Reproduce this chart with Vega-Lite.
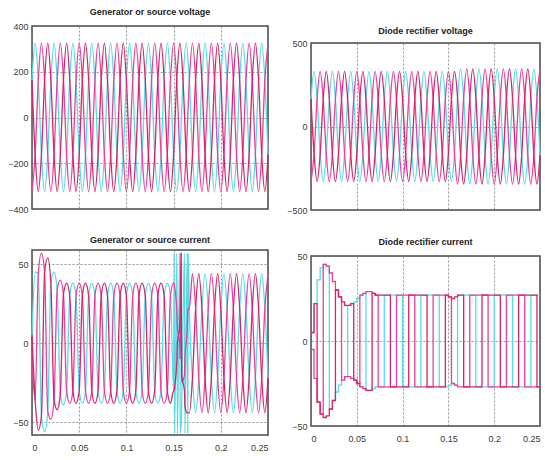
{
"$schema": "https://vega.github.io/schema/vega-lite/v6.json",
"background": "white",
"padding": {"left": 6, "top": 7, "right": 0, "bottom": 0},
"config": {
  "view": {"stroke": "#4a4a4a", "strokeWidth": 1.5},
  "axis": {"grid": true, "gridColor": "#6a6a6a", "gridDash": [2,2], "gridWidth": 0.7, "ticks": false, "domain": false, "labelFont": "Liberation Sans", "labelFontSize": 9, "labelColor": "#3a3a3a", "labelPadding": 4},
  "title": {"font": "Liberation Sans Narrow, Liberation Sans", "fontSize": 9, "fontWeight": "bold", "color": "#222", "offset": 5},
  "line": {"strokeWidth": 1.3, "interpolate": "monotone", "clip": true}
},
"datasets": {
"v1": [
{"t":0,"a":163,"b":-325,"c":163},{"t":0.00333,"a":325,"b":-163,"c":-163},{"t":0.00667,"a":163,"b":163,"c":-325},{"t":0.01,"a":-163,"b":325,"c":-163},{"t":0.01333,"a":-325,"b":163,"c":163},{"t":0.01667,"a":-163,"b":-163,"c":325},
{"t":0.02,"a":163,"b":-325,"c":163},{"t":0.02333,"a":325,"b":-163,"c":-163},{"t":0.02667,"a":163,"b":163,"c":-325},{"t":0.03,"a":-163,"b":325,"c":-163},{"t":0.03333,"a":-325,"b":163,"c":163},{"t":0.03667,"a":-163,"b":-163,"c":325},
{"t":0.04,"a":163,"b":-325,"c":163},{"t":0.04333,"a":325,"b":-163,"c":-163},{"t":0.04667,"a":163,"b":163,"c":-325},{"t":0.05,"a":-163,"b":325,"c":-163},{"t":0.05333,"a":-325,"b":163,"c":163},{"t":0.05667,"a":-163,"b":-163,"c":325},
{"t":0.06,"a":163,"b":-325,"c":163},{"t":0.06333,"a":325,"b":-163,"c":-163},{"t":0.06667,"a":163,"b":163,"c":-325},{"t":0.07,"a":-163,"b":325,"c":-163},{"t":0.07333,"a":-325,"b":163,"c":163},{"t":0.07667,"a":-163,"b":-163,"c":325},
{"t":0.08,"a":163,"b":-325,"c":163},{"t":0.08333,"a":325,"b":-163,"c":-163},{"t":0.08667,"a":163,"b":163,"c":-325},{"t":0.09,"a":-163,"b":325,"c":-163},{"t":0.09333,"a":-325,"b":163,"c":163},{"t":0.09667,"a":-163,"b":-163,"c":325},
{"t":0.1,"a":163,"b":-325,"c":163},{"t":0.10333,"a":325,"b":-163,"c":-163},{"t":0.10667,"a":163,"b":163,"c":-325},{"t":0.11,"a":-163,"b":325,"c":-163},{"t":0.11333,"a":-325,"b":163,"c":163},{"t":0.11667,"a":-163,"b":-163,"c":325},
{"t":0.12,"a":163,"b":-325,"c":163},{"t":0.12333,"a":325,"b":-163,"c":-163},{"t":0.12667,"a":163,"b":163,"c":-325},{"t":0.13,"a":-163,"b":325,"c":-163},{"t":0.13333,"a":-325,"b":163,"c":163},{"t":0.13667,"a":-163,"b":-163,"c":325},
{"t":0.14,"a":163,"b":-325,"c":163},{"t":0.14333,"a":325,"b":-163,"c":-163},{"t":0.14667,"a":163,"b":163,"c":-325},{"t":0.15,"a":-163,"b":325,"c":-163},{"t":0.15333,"a":-325,"b":163,"c":163},{"t":0.15667,"a":-163,"b":-163,"c":325},
{"t":0.16,"a":163,"b":-325,"c":163},{"t":0.16333,"a":325,"b":-163,"c":-163},{"t":0.16667,"a":163,"b":163,"c":-325},{"t":0.17,"a":-163,"b":325,"c":-163},{"t":0.17333,"a":-325,"b":163,"c":163},{"t":0.17667,"a":-163,"b":-163,"c":325},
{"t":0.18,"a":163,"b":-325,"c":163},{"t":0.18333,"a":325,"b":-163,"c":-163},{"t":0.18667,"a":163,"b":163,"c":-325},{"t":0.19,"a":-163,"b":325,"c":-163},{"t":0.19333,"a":-325,"b":163,"c":163},{"t":0.19667,"a":-163,"b":-163,"c":325},
{"t":0.2,"a":163,"b":-325,"c":163},{"t":0.20333,"a":325,"b":-163,"c":-163},{"t":0.20667,"a":163,"b":163,"c":-325},{"t":0.21,"a":-163,"b":325,"c":-163},{"t":0.21333,"a":-325,"b":163,"c":163},{"t":0.21667,"a":-163,"b":-163,"c":325},
{"t":0.22,"a":163,"b":-325,"c":163},{"t":0.22333,"a":325,"b":-163,"c":-163},{"t":0.22667,"a":163,"b":163,"c":-325},{"t":0.23,"a":-163,"b":325,"c":-163},{"t":0.23333,"a":-325,"b":163,"c":163},{"t":0.23667,"a":-163,"b":-163,"c":325},
{"t":0.24,"a":163,"b":-325,"c":163},{"t":0.24333,"a":325,"b":-163,"c":-163},{"t":0.24667,"a":163,"b":163,"c":-325},{"t":0.25,"a":-163,"b":325,"c":-163}
],
"v2": [
{"t":0,"a":165,"b":-330,"c":165},{"t":0.00333,"a":330,"b":-165,"c":-165},{"t":0.00667,"a":165,"b":165,"c":-330},{"t":0.01,"a":-165,"b":330,"c":-165},{"t":0.01333,"a":-330,"b":165,"c":165},{"t":0.01667,"a":-165,"b":-165,"c":330},
{"t":0.02,"a":165,"b":-330,"c":165},{"t":0.02333,"a":330,"b":-165,"c":-165},{"t":0.02667,"a":165,"b":165,"c":-330},{"t":0.03,"a":-165,"b":330,"c":-165},{"t":0.03333,"a":-330,"b":165,"c":165},{"t":0.03667,"a":-165,"b":-165,"c":330},
{"t":0.04,"a":165,"b":-330,"c":165},{"t":0.04333,"a":330,"b":-165,"c":-165},{"t":0.04667,"a":165,"b":165,"c":-330},{"t":0.05,"a":-165,"b":330,"c":-165},{"t":0.05333,"a":-330,"b":165,"c":165},{"t":0.05667,"a":-165,"b":-165,"c":330},
{"t":0.06,"a":165,"b":-330,"c":165},{"t":0.06333,"a":330,"b":-165,"c":-165},{"t":0.06667,"a":165,"b":165,"c":-330},{"t":0.07,"a":-165,"b":330,"c":-165},{"t":0.07333,"a":-330,"b":165,"c":165},{"t":0.07667,"a":-165,"b":-165,"c":330},
{"t":0.08,"a":165,"b":-330,"c":165},{"t":0.08333,"a":330,"b":-165,"c":-165},{"t":0.08667,"a":165,"b":165,"c":-330},{"t":0.09,"a":-165,"b":330,"c":-165},{"t":0.09333,"a":-330,"b":165,"c":165},{"t":0.09667,"a":-165,"b":-165,"c":330},
{"t":0.1,"a":165,"b":-330,"c":165},{"t":0.10333,"a":330,"b":-165,"c":-165},{"t":0.10667,"a":165,"b":165,"c":-330},{"t":0.11,"a":-165,"b":330,"c":-165},{"t":0.11333,"a":-330,"b":165,"c":165},{"t":0.11667,"a":-165,"b":-165,"c":330},
{"t":0.12,"a":165,"b":-330,"c":165},{"t":0.12333,"a":330,"b":-165,"c":-165},{"t":0.12667,"a":165,"b":165,"c":-330},{"t":0.13,"a":-165,"b":330,"c":-165},{"t":0.13333,"a":-330,"b":165,"c":165},{"t":0.13667,"a":-165,"b":-165,"c":330},
{"t":0.14,"a":165,"b":-330,"c":165},{"t":0.14333,"a":330,"b":-165,"c":-165},{"t":0.14667,"a":165,"b":165,"c":-330},{"t":0.15,"a":-165,"b":330,"c":-165},{"t":0.15333,"a":-330,"b":165,"c":165},{"t":0.15667,"a":-165,"b":-165,"c":330},
{"t":0.16,"a":173,"b":-345,"c":173},{"t":0.16333,"a":345,"b":-173,"c":-173},{"t":0.16667,"a":173,"b":173,"c":-345},{"t":0.17,"a":-173,"b":345,"c":-173},{"t":0.17333,"a":-345,"b":173,"c":173},{"t":0.17667,"a":-173,"b":-173,"c":345},
{"t":0.18,"a":173,"b":-345,"c":173},{"t":0.18333,"a":345,"b":-173,"c":-173},{"t":0.18667,"a":173,"b":173,"c":-345},{"t":0.19,"a":-173,"b":345,"c":-173},{"t":0.19333,"a":-345,"b":173,"c":173},{"t":0.19667,"a":-173,"b":-173,"c":345},
{"t":0.2,"a":173,"b":-345,"c":173},{"t":0.20333,"a":345,"b":-173,"c":-173},{"t":0.20667,"a":173,"b":173,"c":-345},{"t":0.21,"a":-173,"b":345,"c":-173},{"t":0.21333,"a":-345,"b":173,"c":173},{"t":0.21667,"a":-173,"b":-173,"c":345},
{"t":0.22,"a":173,"b":-345,"c":173},{"t":0.22333,"a":345,"b":-173,"c":-173},{"t":0.22667,"a":173,"b":173,"c":-345},{"t":0.23,"a":-173,"b":345,"c":-173},{"t":0.23333,"a":-345,"b":173,"c":173},{"t":0.23667,"a":-173,"b":-173,"c":345},
{"t":0.24,"a":173,"b":-345,"c":173},{"t":0.24333,"a":345,"b":-173,"c":-173},{"t":0.24667,"a":173,"b":173,"c":-345},{"t":0.25,"a":-173,"b":345,"c":-173}
],
"c1": [
{"t":0,"a":5,"b":-10,"c":5},{"t":0.00333,"a":45,"b":-36,"c":-36},{"t":0.00667,"a":44,"b":44,"c":-55},{"t":0.01,"a":-46,"b":57,"c":-46},{"t":0.01333,"a":-56,"b":45,"c":45},{"t":0.01667,"a":-43,"b":-43,"c":54},
{"t":0.02,"a":38,"b":-48,"c":38},{"t":0.02333,"a":45,"b":-36,"c":-36},{"t":0.02667,"a":34,"b":34,"c":-42},{"t":0.03,"a":-32,"b":40,"c":-32},{"t":0.03333,"a":-39,"b":31,"c":31},{"t":0.03667,"a":-30,"b":-30,"c":38},
{"t":0.04,"a":30,"b":-38,"c":30},{"t":0.04333,"a":38,"b":-30,"c":-30},{"t":0.04667,"a":30,"b":30,"c":-38},{"t":0.05,"a":-30,"b":38,"c":-30},{"t":0.05333,"a":-38,"b":30,"c":30},{"t":0.05667,"a":-30,"b":-30,"c":38},
{"t":0.06,"a":30,"b":-38,"c":30},{"t":0.06333,"a":38,"b":-30,"c":-30},{"t":0.06667,"a":30,"b":30,"c":-38},{"t":0.07,"a":-30,"b":38,"c":-30},{"t":0.07333,"a":-38,"b":30,"c":30},{"t":0.07667,"a":-30,"b":-30,"c":38},
{"t":0.08,"a":30,"b":-38,"c":30},{"t":0.08333,"a":38,"b":-30,"c":-30},{"t":0.08667,"a":30,"b":30,"c":-38},{"t":0.09,"a":-30,"b":38,"c":-30},{"t":0.09333,"a":-38,"b":30,"c":30},{"t":0.09667,"a":-30,"b":-30,"c":38},
{"t":0.1,"a":30,"b":-38,"c":30},{"t":0.10333,"a":38,"b":-30,"c":-30},{"t":0.10667,"a":30,"b":30,"c":-38},{"t":0.11,"a":-30,"b":38,"c":-30},{"t":0.11333,"a":-38,"b":30,"c":30},{"t":0.11667,"a":-30,"b":-30,"c":38},
{"t":0.12,"a":30,"b":-38,"c":30},{"t":0.12333,"a":38,"b":-30,"c":-30},{"t":0.12667,"a":30,"b":30,"c":-38},{"t":0.13,"a":-30,"b":38,"c":-30},{"t":0.13333,"a":-38,"b":30,"c":30},{"t":0.13667,"a":-30,"b":-30,"c":38},
{"t":0.14,"a":30,"b":-38,"c":30},{"t":0.14333,"a":38,"b":-30,"c":-30},{"t":0.14667,"a":30,"b":30,"c":-38},{"t":0.15,"a":-30,"b":38,"c":-30},
{"t":0.1505,"a":57,"b":38,"c":-30},{"t":0.151,"a":-57,"b":36,"c":-28},{"t":0.1535,"a":57,"b":20,"c":-10},{"t":0.154,"a":-57,"b":10,"c":0},{"t":0.1565,"a":57,"b":0,"c":10},{"t":0.157,"a":-57,"b":-10,"c":20},{"t":0.158,"a":-50,"b":57,"c":57},{"t":0.1585,"a":-40,"b":-25,"c":-20},{"t":0.1615,"a":57,"b":-20,"c":-30},{"t":0.162,"a":-57,"b":-10,"c":-40},{"t":0.1645,"a":57,"b":10,"c":-44},{"t":0.165,"a":-57,"b":20,"c":-44},{"t":0.1655,"a":57,"b":22,"c":-44},
{"t":0.16667,"a":22,"b":22,"c":-44},{"t":0.17,"a":-22,"b":44,"c":-22},{"t":0.17333,"a":-44,"b":22,"c":22},{"t":0.17667,"a":-22,"b":-22,"c":44},
{"t":0.18,"a":22,"b":-44,"c":22},{"t":0.18333,"a":44,"b":-22,"c":-22},{"t":0.18667,"a":22,"b":22,"c":-44},{"t":0.19,"a":-22,"b":44,"c":-22},{"t":0.19333,"a":-44,"b":22,"c":22},{"t":0.19667,"a":-22,"b":-22,"c":44},
{"t":0.2,"a":22,"b":-44,"c":22},{"t":0.20333,"a":44,"b":-22,"c":-22},{"t":0.20667,"a":22,"b":22,"c":-44},{"t":0.21,"a":-22,"b":44,"c":-22},{"t":0.21333,"a":-44,"b":22,"c":22},{"t":0.21667,"a":-22,"b":-22,"c":44},
{"t":0.22,"a":22,"b":-44,"c":22},{"t":0.22333,"a":44,"b":-22,"c":-22},{"t":0.22667,"a":22,"b":22,"c":-44},{"t":0.23,"a":-22,"b":44,"c":-22},{"t":0.23333,"a":-44,"b":22,"c":22},{"t":0.23667,"a":-22,"b":-22,"c":44},
{"t":0.24,"a":22,"b":-44,"c":22},{"t":0.24333,"a":44,"b":-22,"c":-22},{"t":0.24667,"a":22,"b":22,"c":-44},{"t":0.25,"a":-22,"b":44,"c":-22}
],
"c2": [
{"t":0,"a":5,"b":-5,"c":5},{"t":0.00333,"a":22,"b":-22,"c":22},{"t":0.00667,"a":36,"b":-36,"c":-36},{"t":0.01,"a":43,"b":-43,"c":-43},{"t":0.01333,"a":45,"b":45,"c":-45},{"t":0.01667,"a":44,"b":44,"c":-44},
{"t":0.02,"a":-40,"b":40,"c":-40},{"t":0.02333,"a":-35,"b":35,"c":-35},{"t":0.02667,"a":-30,"b":30,"c":30},{"t":0.03,"a":-26,"b":26,"c":26},{"t":0.03333,"a":-23,"b":-23,"c":23},{"t":0.03667,"a":-21,"b":-21,"c":21},
{"t":0.04,"a":21,"b":-21,"c":21},{"t":0.04333,"a":22,"b":-22,"c":22},{"t":0.04667,"a":23,"b":-23,"c":-23},{"t":0.05,"a":25,"b":-25,"c":-25},{"t":0.05333,"a":27,"b":27,"c":-27},{"t":0.05667,"a":28,"b":28,"c":-28},
{"t":0.06,"a":-29,"b":29,"c":-29},{"t":0.06333,"a":-29,"b":29,"c":-29},{"t":0.06667,"a":-28,"b":28,"c":28},{"t":0.07,"a":-27,"b":27,"c":27},{"t":0.07333,"a":-27,"b":-27,"c":27},{"t":0.07667,"a":-27,"b":-27,"c":27},
{"t":0.08,"a":27,"b":-27,"c":27},{"t":0.08333,"a":27,"b":-27,"c":27},{"t":0.08667,"a":27,"b":-27,"c":-27},{"t":0.09,"a":27,"b":-27,"c":-27},{"t":0.09333,"a":27,"b":27,"c":-27},{"t":0.09667,"a":27,"b":27,"c":-27},
{"t":0.1,"a":-27,"b":27,"c":-27},{"t":0.10333,"a":-27,"b":27,"c":-27},{"t":0.10667,"a":-27,"b":27,"c":27},{"t":0.11,"a":-27,"b":27,"c":27},{"t":0.11333,"a":-27,"b":-27,"c":27},{"t":0.11667,"a":-27,"b":-27,"c":27},
{"t":0.12,"a":27,"b":-27,"c":27},{"t":0.12333,"a":27,"b":-27,"c":27},{"t":0.12667,"a":27,"b":-27,"c":-27},{"t":0.13,"a":27,"b":-27,"c":-27},{"t":0.13333,"a":27,"b":27,"c":-27},{"t":0.13667,"a":27,"b":27,"c":-27},
{"t":0.14,"a":-27,"b":27,"c":-27},{"t":0.14333,"a":-27,"b":27,"c":-27},{"t":0.14667,"a":-27,"b":27,"c":27},{"t":0.15,"a":-26,"b":26,"c":26},{"t":0.15333,"a":-25,"b":-25,"c":25},{"t":0.15667,"a":-26,"b":-26,"c":26},
{"t":0.16,"a":27,"b":-27,"c":27},{"t":0.16333,"a":27,"b":-27,"c":27},{"t":0.16667,"a":27,"b":-27,"c":-27},{"t":0.17,"a":27,"b":-27,"c":-27},{"t":0.17333,"a":27,"b":27,"c":-27},{"t":0.17667,"a":27,"b":27,"c":-27},
{"t":0.18,"a":-27,"b":27,"c":-27},{"t":0.18333,"a":-27,"b":27,"c":-27},{"t":0.18667,"a":-27,"b":27,"c":27},{"t":0.19,"a":-27,"b":27,"c":27},{"t":0.19333,"a":-27,"b":-27,"c":27},{"t":0.19667,"a":-27,"b":-27,"c":27},
{"t":0.2,"a":27,"b":-27,"c":27},{"t":0.20333,"a":27,"b":-27,"c":27},{"t":0.20667,"a":27,"b":-27,"c":-27},{"t":0.21,"a":27,"b":-27,"c":-27},{"t":0.21333,"a":27,"b":27,"c":-27},{"t":0.21667,"a":27,"b":27,"c":-27},
{"t":0.22,"a":-27,"b":27,"c":-27},{"t":0.22333,"a":-27,"b":27,"c":-27},{"t":0.22667,"a":-27,"b":27,"c":27},{"t":0.23,"a":-27,"b":27,"c":27},{"t":0.23333,"a":-27,"b":-27,"c":27},{"t":0.23667,"a":-27,"b":-27,"c":27},
{"t":0.24,"a":27,"b":-27,"c":27},{"t":0.24333,"a":27,"b":-27,"c":27},{"t":0.24667,"a":27,"b":-27,"c":-27},{"t":0.25,"a":27,"b":-27,"c":-27}
]
},
"spacing": 13,
"hconcat": [
 {"spacing": 20, "vconcat": [
  {"width": 236, "height": 183, "title": "Generator or source voltage",
   "data": {"name": "v1"},
   "transform": [{"fold": ["a","b","c"], "as": ["ph","v"]}],
   "mark": {"type": "line"},
   "encoding": {
    "x": {"field": "t", "type": "quantitative", "scale": {"domain": [0,0.25], "nice": false}, "axis": {"title": null, "values": [0,0.05,0.1,0.15,0.2,0.25], "labels": false}},
    "y": {"field": "v", "type": "quantitative", "scale": {"domain": [-400,400], "nice": false}, "axis": {"title": null, "values": [-400,-200,0,200,400]}},
    "color": {"field": "ph", "type": "nominal", "scale": {"domain": ["a","b","c"], "range": ["#55dde3","#e8409e","#d6246a"]}, "legend": null}
   }},
  {"width": 236, "height": 185, "title": "Generator or source current",
   "data": {"name": "c1"},
   "transform": [{"fold": ["a","b","c"], "as": ["ph","v"]}],
   "mark": {"type": "line"},
   "encoding": {
    "x": {"field": "t", "type": "quantitative", "scale": {"domain": [0,0.25], "nice": false}, "axis": {"title": null, "values": [0,0.05,0.1,0.15,0.2,0.25], "format": "~g", "labelPadding": 8}},
    "y": {"field": "v", "type": "quantitative", "scale": {"domain": [-58,59], "nice": false}, "axis": {"title": null, "values": [-50,0,50]}},
    "color": {"field": "ph", "type": "nominal", "scale": {"domain": ["a","b","c"], "range": ["#55dde3","#e8409e","#d6246a"]}, "legend": null}
   }}
 ]},
 {"spacing": -6, "vconcat": [
  {"width": 229, "height": 1, "view": {"stroke": null}, "data": {"values": [{"t": 0}]}, "mark": {"type": "text", "text": ""}, "encoding": {}},
  {"spacing": 21, "vconcat": [
  {"width": 229, "height": 167, "title": {"text": "Diode rectifier voltage", "offset": 3},
   "data": {"name": "v2"},
   "transform": [{"fold": ["a","b","c"], "as": ["ph","v"]}],
   "mark": {"type": "line"},
   "encoding": {
    "x": {"field": "t", "type": "quantitative", "scale": {"domain": [0,0.25], "nice": false}, "axis": {"title": null, "values": [0,0.05,0.1,0.15,0.2,0.25], "labels": false}},
    "y": {"field": "v", "type": "quantitative", "scale": {"domain": [-500,500], "nice": false}, "axis": {"title": null, "values": [-500,0,500]}},
    "color": {"field": "ph", "type": "nominal", "scale": {"domain": ["a","b","c"], "range": ["#55dde3","#e8409e","#d6246a"]}, "legend": null}
   }},
  {"width": 229, "height": 170, "title": "Diode rectifier current",
   "data": {"name": "c2"},
   "transform": [{"fold": ["a","b","c"], "as": ["ph","v"]}],
   "mark": {"type": "line", "interpolate": "step-after"},
   "encoding": {
    "x": {"field": "t", "type": "quantitative", "scale": {"domain": [0,0.25], "nice": false}, "axis": {"title": null, "values": [0,0.05,0.1,0.15,0.2,0.25], "format": "~g", "labelPadding": 8}},
    "y": {"field": "v", "type": "quantitative", "scale": {"domain": [-50,50], "nice": false}, "axis": {"title": null, "values": [-50,0,50]}},
    "color": {"field": "ph", "type": "nominal", "scale": {"domain": ["a","b","c"], "range": ["#55dde3","#e8409e","#d6246a"]}, "legend": null}
   }}
  ]}
 ]}
]
}
